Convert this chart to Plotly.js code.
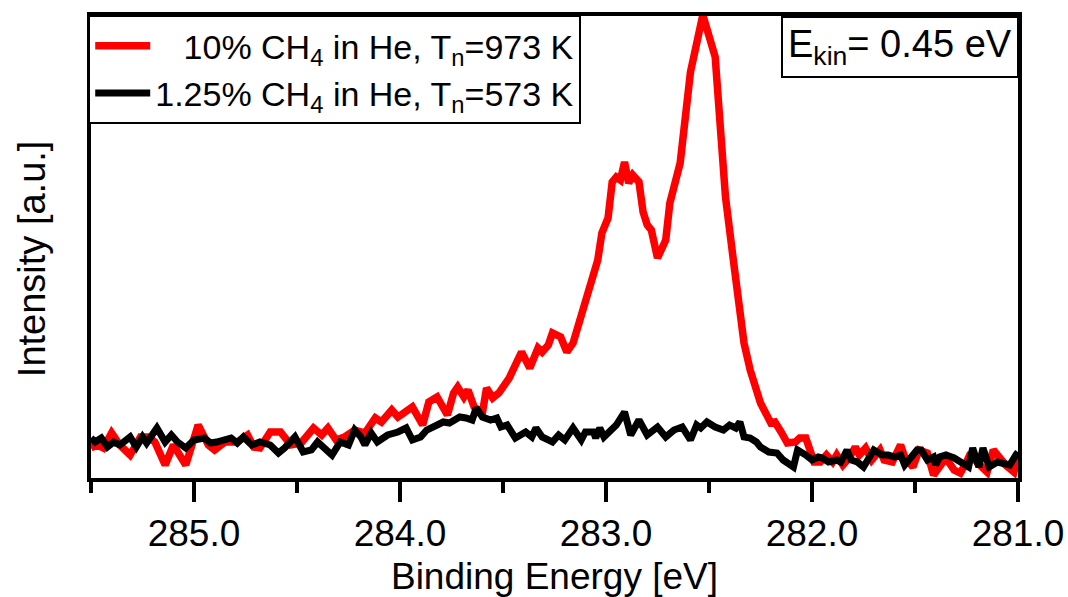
<!DOCTYPE html>
<html>
<head>
<meta charset="utf-8">
<script src="https://cdn.plot.ly/plotly-3.0.1.min.js"></script>
<style>html,body{margin:0;padding:0;background:#fff;}#chart{width:1068px;height:597px;}</style>
</head>
<body>
<div id="chart"></div>
<script>
// Binding energy [eV] and intensity [a.u.]
const energyRed = [285.50,285.47,285.44,285.40,285.36,285.31,285.26,285.22,285.19,285.14,285.10,285.04,284.98,284.93,284.90,284.85,284.79,284.74,284.71,284.68,284.63,284.58,284.53,284.48,284.42,284.38,284.35,284.31,284.27,284.22,284.17,284.12,284.09,284.04,284.01,283.94,283.89,283.86,283.82,283.79,283.77,283.74,283.72,283.69,283.67,283.64,283.60,283.58,283.55,283.52,283.47,283.41,283.37,283.33,283.31,283.28,283.26,283.22,283.19,283.16,283.13,283.10,283.06,283.04,283.02,282.99,282.97,282.95,282.93,282.91,282.89,282.87,282.84,282.82,282.80,282.78,282.75,282.73,282.71,282.69,282.67,282.64,282.59,282.53,282.47,282.44,282.42,282.38,282.35,282.33,282.30,282.27,282.25,282.20,282.18,282.15,282.12,282.08,282.06,282.03,281.99,281.96,281.93,281.90,281.88,281.85,281.82,281.79,281.77,281.74,281.71,281.67,281.65,281.61,281.57,281.55,281.51,281.48,281.44,281.41,281.38,281.35,281.31,281.28,281.25,281.23,281.20,281.15,281.12,281.09,281.06,281.02,281.00];
const intensityRed = [30,33,30,45,33,23,41,41,36,13,33,13,53,33,28,36,36,43,31,30,46,46,33,35,50,43,50,38,41,48,45,60,56,68,61,71,53,76,81,71,63,85,91,81,88,71,65,90,80,85,100,126,110,130,126,133,145,141,126,135,155,178,208,218,245,260,296,301,298,316,295,303,296,266,253,248,220,231,238,275,291,315,406,463,421,348,281,215,171,135,108,85,75,55,56,46,35,36,40,40,16,16,23,16,23,13,20,31,23,30,18,28,18,16,33,21,11,28,25,3,11,20,8,5,16,25,16,6,28,20,13,6,23];

const energyBlack = [285.50,285.48,285.45,285.42,285.39,285.36,285.31,285.28,285.25,285.23,285.18,285.14,285.11,285.08,285.04,285.00,284.95,284.92,284.89,284.85,284.82,284.79,284.76,284.72,284.68,284.63,284.59,284.56,284.51,284.47,284.43,284.40,284.37,284.33,284.29,284.25,284.22,284.19,284.17,284.14,284.11,284.06,284.01,283.97,283.94,283.90,283.87,283.84,283.79,283.76,283.71,283.68,283.65,283.63,283.60,283.56,283.53,283.51,283.48,283.44,283.39,283.36,283.34,283.31,283.26,283.23,283.20,283.16,283.12,283.10,283.06,283.05,283.03,283.01,282.98,282.95,282.91,282.88,282.84,282.80,282.75,282.71,282.67,282.63,282.59,282.56,282.54,282.51,282.47,282.43,282.40,282.37,282.35,282.33,282.30,282.27,282.25,282.21,282.17,282.14,282.09,282.07,282.03,282.00,281.97,281.95,281.92,281.88,281.86,281.83,281.81,281.78,281.75,281.70,281.66,281.63,281.60,281.57,281.55,281.52,281.49,281.47,281.44,281.41,281.40,281.38,281.35,281.31,281.27,281.24,281.22,281.19,281.17,281.14,281.10,281.07,281.04,281.01,281.00];
const intensityBlack = [40,36,40,31,36,33,41,31,41,35,50,36,43,36,30,38,40,35,36,38,40,35,41,33,36,33,25,30,41,26,28,36,30,23,36,33,48,41,33,45,36,43,46,50,38,41,48,51,56,55,61,60,58,70,61,58,60,51,53,40,46,41,50,41,36,43,38,50,38,46,46,40,50,41,46,53,66,43,58,43,51,41,48,51,38,53,50,56,51,48,53,50,56,41,40,36,31,26,25,18,11,28,23,18,21,20,16,18,16,28,18,16,11,28,23,23,21,23,13,20,28,28,18,21,13,21,23,20,15,11,30,11,30,11,16,15,13,23,26];

const seriesNames = ['\u00a0\u00a0\u00a010% CH<sub>4</sub> in He, T<sub>n</sub>=973 K', '1.25% CH<sub>4</sub> in He, T<sub>n</sub>=573 K'];
const tickValues = [285, 284, 283, 282, 281];
const xRange = [285.5, 281.0];
const yRange = [0, 462];
const xTitle = 'Binding Energy [eV]';
const yTitle = 'Intensity [a.u.]';
const annotationText = 'E<sub>kin</sub>= 0.45 eV';

const FONT = 'Liberation Sans, Arial, Helvetica, sans-serif';

const traces = [
  {x: energyRed, y: intensityRed, name: seriesNames[0], type: 'scatter', mode: 'lines',
   line: {color: '#ff0000', width: 7.5}},
  {x: energyBlack, y: intensityBlack, name: seriesNames[1], type: 'scatter', mode: 'lines',
   line: {color: '#000000', width: 7}}
];

const layout = {
  width: 1068, height: 597,
  margin: {l: 91, r: 50, t: 16, b: 119, pad: 0},
  paper_bgcolor: '#ffffff', plot_bgcolor: '#ffffff',
  font: {family: FONT, size: 37, color: '#000'},
  showlegend: true,
  legend: {
    x: -0.003, y: 1.002, xanchor: 'left', yanchor: 'top',
    bgcolor: '#ffffff', bordercolor: '#000', borderwidth: 2,
    font: {family: FONT, size: 34, color: '#000'},
    itemwidth: 55,
    tracegroupgap: 0
  },
  xaxis: {
    range: xRange, autorange: false,
    tickvals: tickValues, tickformat: '.1f',
    ticks: 'outside', ticklen: 20, tickwidth: 4, tickcolor: '#000',
    minor: {dtick: 0.5, tick0: 281, ticks: 'outside', ticklen: 11, tickwidth: 4, tickcolor: '#000', showgrid: false},
    showline: true, linewidth: 4, linecolor: '#000', mirror: true,
    showgrid: false, zeroline: false,
    tickfont: {family: FONT, size: 37, color: '#000'},
    title: {text: xTitle, font: {family: FONT, size: 37, color: '#000'}, standoff: 12},
    automargin: false
  },
  yaxis: {
    range: yRange, autorange: false,
    showticklabels: false, ticks: '',
    showline: true, linewidth: 4, linecolor: '#000', mirror: true,
    showgrid: false, zeroline: false,
    automargin: false
  },
  annotations: [
    {
      xref: 'paper', yref: 'paper', x: 1.001, y: 1.0, xanchor: 'right', yanchor: 'top',
      text: annotationText, showarrow: false,
      bgcolor: '#ffffff', bordercolor: '#000', borderwidth: 2, borderpad: 5,
      font: {family: FONT, size: 38, color: '#000'}
    },
    {
      xref: 'paper', yref: 'paper', x: -0.0635, y: 0.474, xanchor: 'center', yanchor: 'middle',
      text: yTitle, textangle: -90, showarrow: false,
      font: {family: FONT, size: 38, color: '#000'}
    }
  ]
};

Plotly.newPlot('chart', traces, layout, {displayModeBar: false, staticPlot: true});
</script>
</body>
</html>
